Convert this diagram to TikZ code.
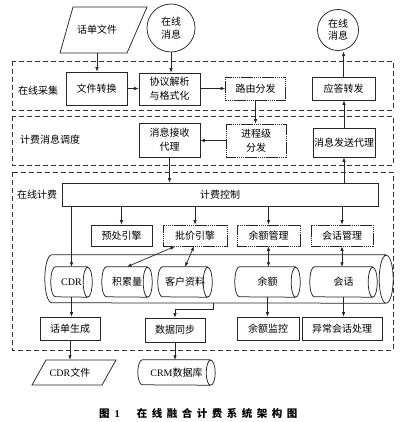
\documentclass[tikz,border=0pt]{standalone}
\usepackage{fontspec}
\setmainfont{Noto Sans CJK SC}
\newfontfamily\lat{Liberation Serif}
\usetikzlibrary{arrows.meta,calc}
\newcommand{\hcyl}[7]{%
  \node[inner sep=0pt, minimum width=#4pt, minimum height=2*#5pt, align=center] (#1) at (#2,#3) {#7};
  \draw[cylline] ([xshift=-#6pt]#1.north east) -- ([xshift=#6pt]#1.north west)
    arc[start angle=90, end angle=270, x radius=#6pt, y radius=#5pt]
    -- ([xshift=-#6pt]#1.south east)
    arc[start angle=-90, end angle=90, x radius=#6pt, y radius=#5pt]
    arc[start angle=90, end angle=270, x radius=#6pt, y radius=#5pt];
}
\newcommand{\cs}{\hspace{4.5pt}}
\begin{document}
\begin{tikzpicture}[x=1pt,y=-1pt,
  every node/.style={font=\fontsize{10}{14}\selectfont, text=black},
  box/.style={draw=black!85, line width=0.75pt, inner sep=0pt, align=center},
  fbox/.style={box, dash pattern=on 1.6pt off 0.5pt},
  layer/.style={draw=black!80, line width=0.7pt, dash pattern=on 5pt off 3pt},
  tip/.tip={Latex[length=4.5pt,width=3.5pt]},
  arr/.style={draw=black!85, line width=0.7pt, -tip},
  darr/.style={draw=black!85, line width=0.7pt, tip-tip},
  cylline/.style={draw=black!85, line width=0.75pt},
  lbl/.style={inner sep=0pt}]
\useasboundingbox (0,0) rectangle (400,422);
\fill[white] (0,0) rectangle (400,422);

% layers
\draw[layer] (12,61) rectangle (393,110);
\draw[layer] (12,116) rectangle (393,165);
\draw[layer] (12,172) rectangle (393,350);
\node[lbl] (l1) at (38,91) {在线采集};
\node[lbl] (l2) at (50,140) {计费消息调度};
\node[lbl] (l3) at (37,195) {在线计费};

% top inputs
\draw[cylline] (73,7) -- (147,7) -- (127,53) -- (60,53) -- cycle;
\node[inner sep=0pt, minimum width=50pt, minimum height=46pt] (docfile) at (97,30) {话单文件};
\node[cylline, circle, inner sep=0pt, minimum size=48pt, align=center, font=\fontsize{10}{13}\selectfont] (lmsg) at (171,28) {在线\\消息};
\node[cylline, circle, inner sep=0pt, minimum size=41pt, align=center, font=\fontsize{10}{12}\selectfont] (rmsg) at (338,30) {在线\\消息};

% layer 1
\node[box, minimum width=61pt, minimum height=33pt] (fileconv) at (96.5,88.5) {文件转换};
\node[box, minimum width=61pt, minimum height=32pt] (parse) at (169.5,89) {协议解析\\与格式化};
\node[fbox, minimum width=60pt, minimum height=23pt] (route) at (255.5,88.5) {路由分发};
\node[box, minimum width=63pt, minimum height=23pt] (reply) at (343.5,88.5) {应答转发};

% layer 2
\node[box, minimum width=61pt, minimum height=34pt] (recv) at (169.5,140) {消息接收\\代理};
\node[fbox, minimum width=60pt, minimum height=33pt] (proc) at (256,140.5) {进程级\\分发};
\node[box, minimum width=62pt, minimum height=29pt] (send) at (344,142.5) {消息发送代理};

% layer 3
\node[box, minimum width=316pt, minimum height=23pt] (ctrl) at (220,194.5) {计费控制};
\node[box, minimum width=61pt, minimum height=21pt] (pre) at (121.5,235.5) {预处引擎};
\node[fbox, minimum width=64pt, minimum height=21pt] (price) at (195,235.5) {批价引擎};
\node[fbox, minimum width=63pt, minimum height=21pt] (balm) at (268.5,235.5) {余额管理};
\node[fbox, minimum width=62pt, minimum height=21pt] (sessm) at (342,235.5) {会话管理};

\hcyl{store}{219}{279}{348}{24}{7}{}
\hcyl{cdr}{71.5}{282}{41}{15}{4.5}{{\lat CDR}}
\hcyl{acc}{127}{282}{50}{15}{4.5}{积累量}
\hcyl{cust}{185}{282}{54}{15}{4.5}{客户资料}
\hcyl{bal}{267.5}{282}{65}{15}{4.5}{余额}
\hcyl{sess}{343.5}{282}{67}{15}{4.5}{会话}

\node[box, minimum width=60pt, minimum height=23pt] (cdrgen) at (70,328.5) {话单生成};
\node[box, minimum width=60pt, minimum height=24pt] (sync) at (175,330) {数据同步};
\node[box, minimum width=62pt, minimum height=23pt] (balmon) at (268,328.5) {余额监控};
\node[box, minimum width=80pt, minimum height=23pt] (abn) at (342,328.5) {异常会话处理};

% bottom outputs
\draw[cylline] (46,360) -- (116,360) -- (102,385) -- (32,385) -- cycle;
\node[inner sep=0pt, minimum width=50pt, minimum height=25pt] (cdrfile) at (70,372.5) {{\lat CDR}文件};
\hcyl{crm}{176.5}{372.5}{77}{12.5}{4.5}{{\lat CRM}数据库}

% connectors
\draw[arr] (docfile.south) -- (docfile.south |- fileconv.north);
\draw[arr] (lmsg.south) -- (lmsg.south |- parse.north);
\draw[arr] (fileconv.east) -- (fileconv.east -| parse.west);
\draw[arr] (parse.east |- route.west) -- (route.west);
\draw[arr] (route.south) -- (route.south |- proc.north);
\draw[arr] (proc.west) -- (proc.west -| recv.east);
\draw[arr] (recv.south) -- (recv.south |- ctrl.north);
\draw[arr] (ctrl.north -| send.south) -- (send.south);
\draw[arr] (send.north) -- (send.north |- reply.south);
\draw[arr, shorten >=0.6pt] (reply.north) -- (reply.north |- rmsg.south);
\draw[arr] (ctrl.south -| pre.north) -- (pre.north);
\draw[arr] (ctrl.south -| price.north) -- (price.north);
\draw[arr] (ctrl.south -| balm.north) -- (balm.north);
\draw[arr] (ctrl.south -| sessm.north) -- (sessm.north);
\draw[arr] (ctrl.south -| cdr.north) -- (cdr.north);
\draw[darr] ($(price.south)+(-20,0)$) -- (acc.north);
\draw[darr] ($(price.south)+(-1,0)$) -- (cust.north);
\draw[darr] (balm.south) -- (balm.south |- bal.north);
\draw[darr] (sessm.south) -- (sessm.south |- sess.north);
\draw[arr] (cdr.south) -- (cdr.south |- cdrgen.north);
\draw[arr] (cdrgen.south) -- (cdrgen.south |- cdrfile.north);
\coordinate (syncsrc) at ($(store.south)+(-6,0)$);
\draw[arr] (syncsrc) -- ++(0,6) -| (sync.north);
\draw[arr] (sync.south) -- (sync.south |- crm.north);
\draw[arr] (bal.south) -- (bal.south |- balmon.north);
\draw[arr] (sess.south) -- (sess.south |- abn.north);

% caption
\node[anchor=west, inner sep=0pt, font=\fontsize{10.5}{12}\selectfont\bfseries] (cap) at (99,413) {图\hspace{5pt}{\lat\bfseries 1}\hspace{17pt}在\cs{}线\cs{}融\cs{}合\cs{}计\cs{}费\cs{}系\cs{}统\cs{}架\cs{}构\cs{}图};
\end{tikzpicture}
\end{document}
